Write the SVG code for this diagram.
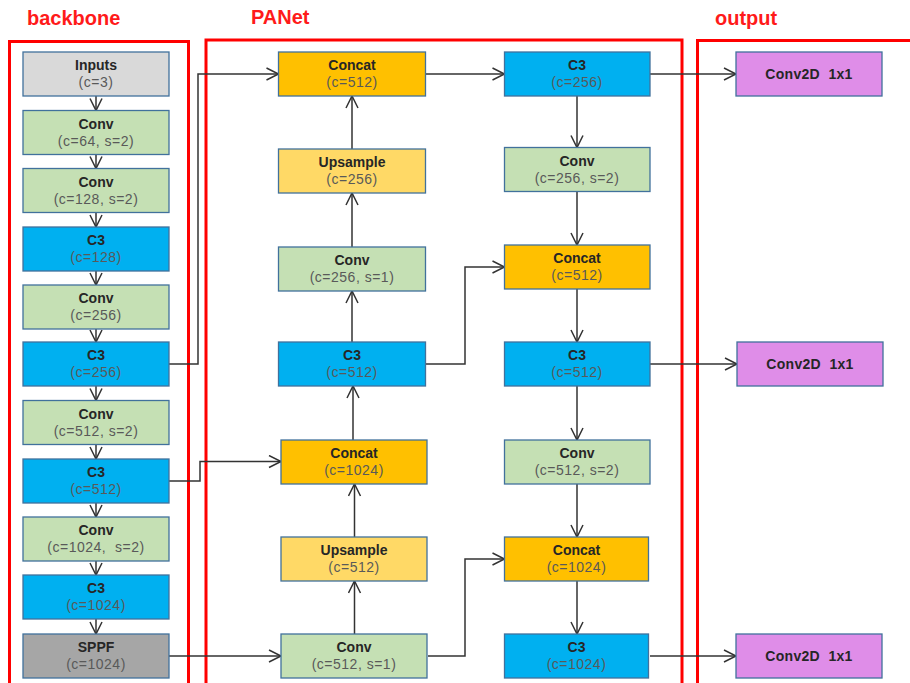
<svg xmlns="http://www.w3.org/2000/svg" width="910" height="683" viewBox="0 0 910 683">
<style>
  .frame{fill:none;stroke:#ff0000;stroke-width:3}
  .title{font-family:"Liberation Sans",Arial,sans-serif;font-size:20px;font-weight:bold;fill:#ff1a1a}
  .box{stroke:#41719c;stroke-width:1.3}
  .t1{font-family:"Liberation Sans",Arial,sans-serif;font-size:14px;font-weight:bold;fill:#262626;text-anchor:middle}
  .t2{font-family:"Liberation Sans",Arial,sans-serif;font-size:14px;fill:#595959;text-anchor:middle;letter-spacing:0.5px}
  .t3{font-family:"Liberation Sans",Arial,sans-serif;font-size:14px;font-weight:bold;fill:#262626;text-anchor:middle;letter-spacing:0.3px}
  .gray{fill:#d9d9d9}
  .conv{fill:#c5e0b4}
  .c3{fill:#00b0f0}
  .sppf{fill:#a6a6a6}
  .concat{fill:#ffc000}
  .up{fill:#ffd966}
  .out{fill:#df8de8}
  .edge{fill:none;stroke:#333333;stroke-width:1.5}
</style>
<defs>
  <marker id="arr" markerUnits="userSpaceOnUse" markerWidth="16" markerHeight="16" viewBox="0 0 16 16" refX="13" refY="7" orient="auto">
    <path d="M1,1 L13,7 L1,13" fill="none" stroke="#333333" stroke-width="1.5"/>
  </marker>
</defs>
<rect width="910" height="683" fill="#ffffff"/>

<g id="frames">
  <rect class="frame" x="9.5" y="41.5" width="179" height="700"/>
  <rect class="frame" x="206" y="40" width="476" height="700"/>
  <rect class="frame" x="697.5" y="40.5" width="300" height="700"/>
  <text class="title" x="27" y="25">backbone</text>
  <text class="title" x="251" y="24">PANet</text>
  <text class="title" x="715" y="25">output</text>
</g>

<g id="connectors">
  <path class="edge" marker-end="url(#arr)" d="M96,96 V110.5"/>
  <path class="edge" marker-end="url(#arr)" d="M96,154.5 V168.5"/>
  <path class="edge" marker-end="url(#arr)" d="M96,212.5 V227"/>
  <path class="edge" marker-end="url(#arr)" d="M96,271 V285"/>
  <path class="edge" marker-end="url(#arr)" d="M96,329 V342"/>
  <path class="edge" marker-end="url(#arr)" d="M96,386 V400.5"/>
  <path class="edge" marker-end="url(#arr)" d="M96,444.5 V459"/>
  <path class="edge" marker-end="url(#arr)" d="M96,503 V517"/>
  <path class="edge" marker-end="url(#arr)" d="M96,561 V575"/>
  <path class="edge" marker-end="url(#arr)" d="M96,619 V634"/>
  <path class="edge" marker-end="url(#arr)" d="M169,364 H198 V74 H278.5"/>
  <path class="edge" marker-end="url(#arr)" d="M169,481 H200 V461.5 H281"/>
  <path class="edge" marker-end="url(#arr)" d="M169,656 H281"/>
  <path class="edge" marker-end="url(#arr)" d="M354.5,634 V581"/>
  <path class="edge" marker-end="url(#arr)" d="M354.5,537 V484"/>
  <path class="edge" marker-end="url(#arr)" d="M353,440 V386"/>
  <path class="edge" marker-end="url(#arr)" d="M352,342 V291"/>
  <path class="edge" marker-end="url(#arr)" d="M352,247 V193"/>
  <path class="edge" marker-end="url(#arr)" d="M352,149 V96"/>
  <path class="edge" marker-end="url(#arr)" d="M425.5,74 H504.5"/>
  <path class="edge" marker-end="url(#arr)" d="M425.5,364 H465 V267 H504.5"/>
  <path class="edge" marker-end="url(#arr)" d="M428,656 H465 V559 H504.5"/>
  <path class="edge" marker-end="url(#arr)" d="M577,96 V147.5"/>
  <path class="edge" marker-end="url(#arr)" d="M577,191.5 V245"/>
  <path class="edge" marker-end="url(#arr)" d="M577,289 V342"/>
  <path class="edge" marker-end="url(#arr)" d="M577,386 V440"/>
  <path class="edge" marker-end="url(#arr)" d="M577,484 V537"/>
  <path class="edge" marker-end="url(#arr)" d="M577,581 V634"/>
  <path class="edge" marker-end="url(#arr)" d="M650,74 H736"/>
  <path class="edge" marker-end="url(#arr)" d="M650,364 H737"/>
  <path class="edge" marker-end="url(#arr)" d="M650,656 H736"/>
</g>

<g id="inputs"><rect class="box gray" x="23" y="52" width="146" height="44"/><text class="t1" x="96" y="70">Inputs</text><text class="t2" x="96" y="87">(c=3)</text></g>
<g id="bb_conv1"><rect class="box conv" x="23" y="110.5" width="146" height="44"/><text class="t1" x="96" y="128.5">Conv</text><text class="t2" x="96" y="145.5">(c=64, s=2)</text></g>
<g id="bb_conv2"><rect class="box conv" x="23" y="168.5" width="146" height="44"/><text class="t1" x="96" y="186.5">Conv</text><text class="t2" x="96" y="203.5">(c=128, s=2)</text></g>
<g id="bb_c3_128"><rect class="box c3" x="23" y="227" width="146" height="44"/><text class="t1" x="96" y="245">C3</text><text class="t2" x="96" y="262">(c=128)</text></g>
<g id="bb_conv3"><rect class="box conv" x="23" y="285" width="146" height="44"/><text class="t1" x="96" y="303">Conv</text><text class="t2" x="96" y="320">(c=256)</text></g>
<g id="bb_c3_256"><rect class="box c3" x="23" y="342" width="146" height="44"/><text class="t1" x="96" y="360">C3</text><text class="t2" x="96" y="377">(c=256)</text></g>
<g id="bb_conv4"><rect class="box conv" x="23" y="400.5" width="146" height="44"/><text class="t1" x="96" y="418.5">Conv</text><text class="t2" x="96" y="435.5">(c=512, s=2)</text></g>
<g id="bb_c3_512"><rect class="box c3" x="23" y="459" width="146" height="44"/><text class="t1" x="96" y="477">C3</text><text class="t2" x="96" y="494">(c=512)</text></g>
<g id="bb_conv5"><rect class="box conv" x="23" y="517" width="146" height="44"/><text class="t1" x="96" y="535">Conv</text><text class="t2" x="96" y="552">(c=1024,&#160; s=2)</text></g>
<g id="bb_c3_1024"><rect class="box c3" x="23" y="575" width="146" height="44"/><text class="t1" x="96" y="593">C3</text><text class="t2" x="96" y="610">(c=1024)</text></g>
<g id="bb_sppf"><rect class="box sppf" x="23" y="634" width="146" height="44"/><text class="t1" x="96" y="652">SPPF</text><text class="t2" x="96" y="669">(c=1024)</text></g>

<g id="p_concat512"><rect class="box concat" x="278.5" y="52" width="147" height="44"/><text class="t1" x="352" y="70">Concat</text><text class="t2" x="352" y="87">(c=512)</text></g>
<g id="p_up256"><rect class="box up" x="278.5" y="149" width="147" height="44"/><text class="t1" x="352" y="167">Upsample</text><text class="t2" x="352" y="184">(c=256)</text></g>
<g id="p_conv256"><rect class="box conv" x="278.5" y="247" width="147" height="44"/><text class="t1" x="352" y="265">Conv</text><text class="t2" x="352" y="282">(c=256, s=1)</text></g>
<g id="p_c3_512"><rect class="box c3" x="278.5" y="342" width="147" height="44"/><text class="t1" x="352" y="360">C3</text><text class="t2" x="352" y="377">(c=512)</text></g>
<g id="p_concat1024"><rect class="box concat" x="281" y="440" width="146" height="44"/><text class="t1" x="354" y="458">Concat</text><text class="t2" x="354" y="475">(c=1024)</text></g>
<g id="p_up512"><rect class="box up" x="281" y="537" width="146" height="44"/><text class="t1" x="354" y="555">Upsample</text><text class="t2" x="354" y="572">(c=512)</text></g>
<g id="p_conv512"><rect class="box conv" x="281" y="634" width="146" height="44"/><text class="t1" x="354" y="652">Conv</text><text class="t2" x="354" y="669">(c=512, s=1)</text></g>

<g id="q_c3_256"><rect class="box c3" x="504.5" y="52" width="145.5" height="44"/><text class="t1" x="577" y="70">C3</text><text class="t2" x="577" y="87">(c=256)</text></g>
<g id="q_conv256"><rect class="box conv" x="504.5" y="147.5" width="145.5" height="44"/><text class="t1" x="577" y="165.5">Conv</text><text class="t2" x="577" y="182.5">(c=256, s=2)</text></g>
<g id="q_concat512"><rect class="box concat" x="504.5" y="245" width="145.5" height="44"/><text class="t1" x="577" y="263">Concat</text><text class="t2" x="577" y="280">(c=512)</text></g>
<g id="q_c3_512"><rect class="box c3" x="504.5" y="342" width="145.5" height="44"/><text class="t1" x="577" y="360">C3</text><text class="t2" x="577" y="377">(c=512)</text></g>
<g id="q_conv512"><rect class="box conv" x="504.5" y="440" width="145.5" height="44"/><text class="t1" x="577" y="458">Conv</text><text class="t2" x="577" y="475">(c=512, s=2)</text></g>
<g id="q_concat1024"><rect class="box concat" x="504.5" y="537" width="144" height="44"/><text class="t1" x="576.5" y="555">Concat</text><text class="t2" x="576.5" y="572">(c=1024)</text></g>
<g id="q_c3_1024"><rect class="box c3" x="504.5" y="634" width="144" height="44"/><text class="t1" x="576.5" y="652">C3</text><text class="t2" x="576.5" y="669">(c=1024)</text></g>

<g id="out1"><rect class="box out" x="736" y="52" width="146" height="44"/><text class="t3" x="809" y="79">Conv2D&#160; 1x1</text></g>
<g id="out2"><rect class="box out" x="737" y="342" width="146" height="44"/><text class="t3" x="810" y="369">Conv2D&#160; 1x1</text></g>
<g id="out3"><rect class="box out" x="736" y="634" width="146" height="44"/><text class="t3" x="809" y="661">Conv2D&#160; 1x1</text></g>
</svg>
